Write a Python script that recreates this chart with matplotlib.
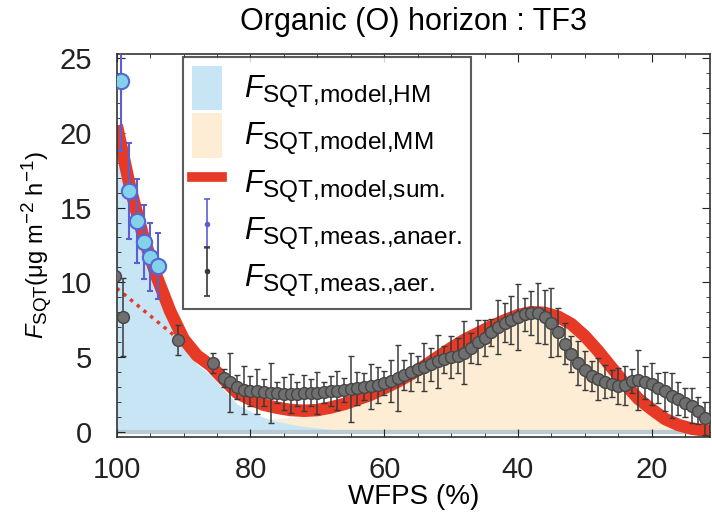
import numpy as np
import matplotlib
matplotlib.use('Agg')
import matplotlib.pyplot as plt
import matplotlib._mathtext as mathtext_internals
from matplotlib.patches import Patch
from matplotlib.lines import Line2D
from matplotlib.container import ErrorbarContainer
from matplotlib.legend_handler import HandlerErrorbar
from matplotlib.ticker import MultipleLocator

plt.rcParams['font.family'] = ['Liberation Sans', 'DejaVu Sans']
plt.rcParams['mathtext.fontset'] = 'custom'
plt.rcParams['mathtext.rm'] = 'Liberation Sans'
plt.rcParams['mathtext.it'] = 'Liberation Sans:italic'
# subscripts in the original are relatively large
mathtext_internals.SHRINK_FACTOR = 0.8

# model curves, WFPS 100 -> 10 in steps of 2
model_wfps = list(range(100, 9, -2))
hm_model = [20.2, 16.0, 12.6, 9.9, 7.55, 5.65, 4.5, 3.8, 2.8, 1.85,
            1.35, 0.95, 0.7, 0.5, 0.35, 0.25, 0.17, 0.1, 0.06, 0.03,
            0.01, 0, 0, 0, 0, 0, 0, 0, 0, 0,
            0, 0, 0, 0, 0, 0, 0, 0, 0, 0,
            0, 0, 0, 0, 0, 0]
mm_model = [0.3, 0.35, 0.4, 0.45, 0.5, 0.55, 0.6, 0.65, 0.7, 0.75,
            0.8, 0.85, 0.9, 0.95, 1.05, 1.2, 1.45, 1.75, 2.1, 2.45,
            2.9, 3.35, 3.85, 4.4, 5.0, 5.6, 6.15, 6.6, 7.05, 7.45,
            7.8, 8.0, 7.95, 7.7, 7.2, 6.4, 5.4, 4.3, 3.2, 2.2,
            1.5, 0.85, 0.45, 0.2, 0.08, 0.02]
sum_model = np.array(hm_model) + np.array(mm_model)

# dotted red extrapolation
dot_wfps = [100, 89.4]
dot_flux = [9.6, 5.7]

# anaerobic measurements
anaer_wfps = [99.3, 98.2, 97.0, 95.9, 95.0, 93.8]
anaer_flux = [23.5, 16.1, 14.1, 12.7, 11.7, 11.1]
anaer_err = [4.7, 3.2, 2.8, 2.5, 2.3, 2.2]

# aerobic measurements
aer_wfps = [100.2, 99.1, 90.8, 85.6] + list(range(84, 11, -1))
aer_flux = [10.4, 7.7, 6.15, 4.6,
            3.6, 3.3, 3.0, 2.8, 2.75, 2.7, 2.65, 2.6, 2.6, 2.55,
            2.55, 2.55, 2.6, 2.6, 2.6, 2.65, 2.7, 2.75, 2.8, 2.85,
            2.9, 3.0, 3.05, 3.15, 3.25, 3.4, 3.6, 3.8, 4.0, 4.2,
            4.35, 4.5, 4.7, 4.85, 5.0, 5.1, 5.3, 5.6, 6.0, 6.3,
            6.65, 7.0, 7.3, 7.5, 7.7, 7.85, 7.95, 7.95, 7.7, 7.3,
            6.7, 5.9, 5.2, 4.6, 4.1, 3.7, 3.5, 3.35, 3.2, 3.05,
            3.1, 3.4, 3.45, 3.3, 3.2, 2.9, 2.7, 2.4, 2.2, 1.95,
            1.75, 1.4, 0.9]
aer_err = [0.3, 2.6, 1.0, 0.7,
           0.6, 2.0, 0.8, 1.6, 1.0, 1.5, 0.9, 2.0, 0.7, 1.1,
           1.3, 0.8, 1.2, 0.9, 1.4, 0.7, 1.0, 1.3, 0.8, 2.2,
           1.1, 0.9, 1.5, 1.2, 0.8, 1.4, 2.2, 1.0, 1.3, 0.9,
           1.6, 1.1, 1.8, 0.9, 1.4, 1.2, 2.1, 1.0, 1.5, 1.2,
           0.9, 1.8, 1.3, 1.6, 2.2, 1.1, 1.5, 2.0, 1.8, 2.3,
           1.6, 1.4, 1.2, 1.5, 1.3, 1.0, 1.4, 1.1, 0.9, 1.2,
           1.3, 0.8, 2.0, 1.1, 1.4, 1.0, 1.3, 1.5, 1.1, 1.0,
           1.2, 0.9, 1.1]

blue_fill = '#c7e5f5'
tan_fill = '#fdedd5'
red = '#e63a27'

fig = plt.figure(figsize=(7.12, 5.22), dpi=100)
ax = fig.add_axes([0.164, 0.163, 0.833, 0.734])

ax.fill_between(model_wfps, 0, mm_model, color=tan_fill, lw=0)
ax.fill_between(model_wfps, 0, hm_model, color=blue_fill, lw=0)
ax.axhline(0, color='#b9cad2', lw=3, zorder=1.5)
ax.plot(model_wfps, sum_model, color=red, lw=9, solid_capstyle='butt', zorder=2)
ax.plot(dot_wfps, dot_flux, color=red, lw=2.5, ls=(0, (1, 1.5)), zorder=2.5)

aer = ax.errorbar(aer_wfps, aer_flux, yerr=aer_err, fmt='o', ms=8.5,
                  mfc='#6f6f6f', mec='#454545', mew=1.0,
                  ecolor='#3a3a3a', elinewidth=1.1, capsize=2.5, capthick=1.1, zorder=3)
anaer = ax.errorbar(anaer_wfps, anaer_flux, yerr=anaer_err, fmt='o', ms=11,
                    mfc='#84d2ea', mec='#5566d6', mew=1.5,
                    ecolor='#5c5fd0', elinewidth=1.5, capsize=2.5, capthick=1.5, zorder=4)

# small proxies for the legend
anaer_leg = ax.errorbar([np.nan], [np.nan], yerr=[1], fmt='o', ms=3, color='#5c5fd0',
                        elinewidth=1.2, capsize=2, capthick=1.2)
aer_leg = ax.errorbar([np.nan], [np.nan], yerr=[1], fmt='o', ms=3, color='#3a3a3a',
                      elinewidth=1.2, capsize=2, capthick=1.2)

ax.set_xlim(100, 11.3)
ax.set_ylim(-0.35, 25.3)
ax.xaxis.set_major_locator(MultipleLocator(20))
ax.xaxis.set_minor_locator(MultipleLocator(5))
ax.yaxis.set_major_locator(MultipleLocator(5))
ax.yaxis.set_minor_locator(MultipleLocator(1))
ax.tick_params(which='both', direction='in', top=True, right=True, labelsize=21, colors='#222222')
ax.tick_params(which='major', length=6)
ax.tick_params(which='minor', length=3)
ax.tick_params(axis='x', which='major', pad=14)
ax.tick_params(axis='y', which='major', pad=18)
for s in ax.spines.values():
    s.set_linewidth(1.2)
    s.set_color('#333333')

ax.set_xlabel('WFPS (%)', fontsize=20, labelpad=0)
ax.set_ylabel(r'$F_{\mathrm{SQT}}$(μg m$^{-2}$ h$^{-1}$)', fontsize=17, labelpad=4)
ax.set_title('Organic (O) horizon : TF3', fontsize=22, pad=17)

handles = [Patch(facecolor=blue_fill, edgecolor='none'),
           Patch(facecolor=tan_fill, edgecolor='none'),
           Line2D([], [], color=red, lw=7),
           anaer_leg, aer_leg]
labels = [r'$F_{\text{SQT,model,HM}}$',
          r'$F_{\text{SQT,model,MM}}$',
          r'$F_{\text{SQT,model,sum.}}$',
          r'$F_{\text{SQT,meas.,anaer.}}$',
          r'$F_{\text{SQT,meas.,aer.}}$']
leg = ax.legend(handles, labels, loc='upper left', bbox_to_anchor=(0.111, 0.992),
                fontsize=22, frameon=True, fancybox=False, handlelength=1.0,
                handleheight=1.85, labelspacing=0.1, borderpad=0.3, handletextpad=0.7,
                borderaxespad=0,
                handler_map={ErrorbarContainer: HandlerErrorbar(yerr_size=0.8)})
leg.get_frame().set_edgecolor('#333333')
leg.get_frame().set_linewidth(1.5)

fig.savefig('out.png', dpi=100)
